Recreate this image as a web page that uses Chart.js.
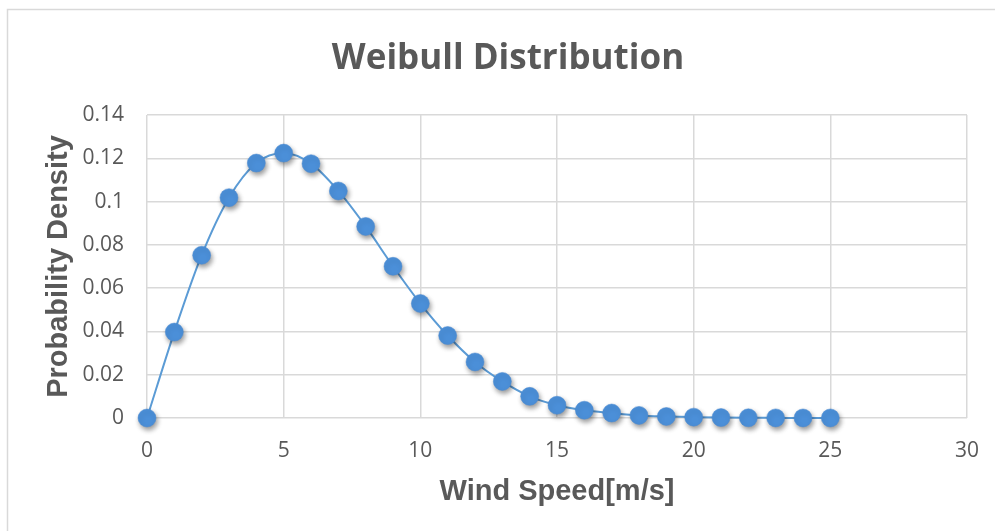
<!DOCTYPE html>
<html>
<head>
<meta charset="utf-8">
<script src="https://cdn.jsdelivr.net/npm/chart.js@4.4.1/dist/chart.umd.min.js"></script>
<style>
  html, body { margin: 0; padding: 0; background: #ffffff; }
  #wrap { width: 995px; height: 531px; position: relative; }
</style>
</head>
<body>
<div id="wrap"><canvas id="chart" width="995" height="531"></canvas></div>
<script>
// Wind speed bins [m/s] and the Weibull probability density at each
const windSpeeds = [0, 1, 2, 3, 4, 5, 6, 7, 8, 9, 10, 11, 12, 13, 14, 15, 16, 17, 18, 19, 20, 21, 22, 23, 24, 25];
const densities = [0, 0.0397, 0.0752, 0.1018, 0.1178, 0.1224, 0.1175, 0.1049, 0.0885, 0.0701, 0.0529,
                   0.0381, 0.0259, 0.0169, 0.0100, 0.0059, 0.0036, 0.0023, 0.0012, 0.0007, 0.0004,
                   0.0002, 0.0001, 0.00005, 0.00002, 0.00001];

// Axis ticks
const xTickValues = [0, 5, 10, 15, 20, 25, 30];
const yTickValues = [0, 0.02, 0.04, 0.06, 0.08, 0.1, 0.12, 0.14];
const yTickLabels = ['0', '0.02', '0.04', '0.06', '0.08', '0.1', '0.12', '0.14'];

const chartTitle = 'Weibull Distribution';
const xTitle = 'Wind Speed[m/s]';
const yTitle = 'Probability Density';

const points = windSpeeds.map((x, i) => ({ x: x, y: densities[i] }));

const textGrey = '#595959';
const gridGrey = '#d9d9d9';

// White background and a thin frame around the whole chart
const framePlugin = {
  id: 'frame',
  beforeDraw(chart) {
    const ctx = chart.ctx;
    ctx.save();
    ctx.fillStyle = '#ffffff';
    ctx.fillRect(0, 0, chart.width, chart.height);
    ctx.strokeStyle = '#d9d9d9';
    ctx.lineWidth = 1.5;
    ctx.strokeRect(7.5, 9.5, 2000, 2000);
    ctx.restore();
  }
};

// Chart heading, centred a little right of the canvas middle
const headingPlugin = {
  id: 'heading',
  afterDraw(chart) {
    const ctx = chart.ctx;
    ctx.save();
    ctx.fillStyle = textGrey;
    ctx.font = 'bold 35px "Open Sans", "Liberation Sans", sans-serif';
    ctx.textAlign = 'center';
    ctx.textBaseline = 'middle';
    ctx.fillText(chartTitle, 508, 59);
    ctx.restore();
  }
};

// Soft drop shadow under the markers only
const markerShadow = {
  id: 'markerShadow',
  beforeDatasetDraw(chart, args) {
    if (args.index !== 1) return;
    const ctx = chart.ctx;
    ctx.save();
    ctx.shadowColor = 'rgba(0,0,0,0.4)';
    ctx.shadowBlur = 5;
    ctx.shadowOffsetX = 1.5;
    ctx.shadowOffsetY = 3;
  },
  afterDatasetDraw(chart, args) {
    if (args.index !== 1) return;
    chart.ctx.restore();
  }
};

new Chart(document.getElementById('chart'), {
  type: 'scatter',
  data: {
    datasets: [
      {
        data: points,
        showLine: true,
        borderColor: '#5b9bd5',
        borderWidth: 2,
        pointRadius: 0,
        pointHoverRadius: 0,
        cubicInterpolationMode: 'monotone',
        clip: false,
        order: 2
      },
      {
        data: points,
        showLine: false,
        backgroundColor: '#4b8fd8',
        borderColor: '#4a8bd2',
        borderWidth: 0.5,
        pointRadius: 9,
        pointHoverRadius: 9,
        clip: false,
        order: 1
      }
    ]
  },
  options: {
    responsive: false,
    animation: false,
    devicePixelRatio: 1,
    layout: { padding: { left: 0, right: 28, top: 115, bottom: 0 } },
    plugins: {
      legend: { display: false },
      tooltip: { enabled: false },
      title: { display: false }
    },
    scales: {
      x: {
        type: 'linear',
        min: 0,
        max: 30,
        afterBuildTicks(scale) { scale.ticks = xTickValues.map(v => ({ value: v })); },
        afterFit(scale) {
          scale.height = 113;
          scale.paddingLeft = 0;
          scale.paddingRight = 0;
        },
        grid: { color: gridGrey, lineWidth: 1.5, drawTicks: false },
        border: { display: false },
        ticks: {
          color: textGrey,
          padding: 20,
          maxRotation: 0,
          font: { family: '"Open Sans", sans-serif', size: 21 },
          callback: v => String(v)
        },
        title: {
          display: true,
          text: xTitle,
          color: textGrey,
          font: { family: '"Liberation Sans", Arial, sans-serif', size: 29, weight: 'bold', lineHeight: 1.2 },
          padding: { top: 0, bottom: 22 }
        }
      },
      y: {
        type: 'linear',
        min: 0,
        max: 0.14,
        afterBuildTicks(scale) { scale.ticks = yTickValues.map(v => ({ value: v })); },
        afterFit(scale) {
          scale.width = 147;
          scale.paddingTop = 0;
          scale.paddingBottom = 0;
        },
        grid: { color: gridGrey, lineWidth: 1.5, drawTicks: false },
        border: { display: false },
        ticks: {
          color: textGrey,
          padding: 23,
          font: { family: '"Open Sans", sans-serif', size: 21 },
          callback: (v) => {
            const i = yTickValues.findIndex(t => Math.abs(t - v) < 1e-9);
            return i >= 0 ? yTickLabels[i] : '';
          }
        },
        title: {
          display: true,
          text: yTitle,
          color: textGrey,
          font: { family: '"Liberation Sans", Arial, sans-serif', size: 29, weight: 'bold', lineHeight: 1.2 },
          padding: { top: 42, bottom: 0 }
        }
      }
    }
  },
  plugins: [framePlugin, headingPlugin, markerShadow]
});
</script>
</body>
</html>
